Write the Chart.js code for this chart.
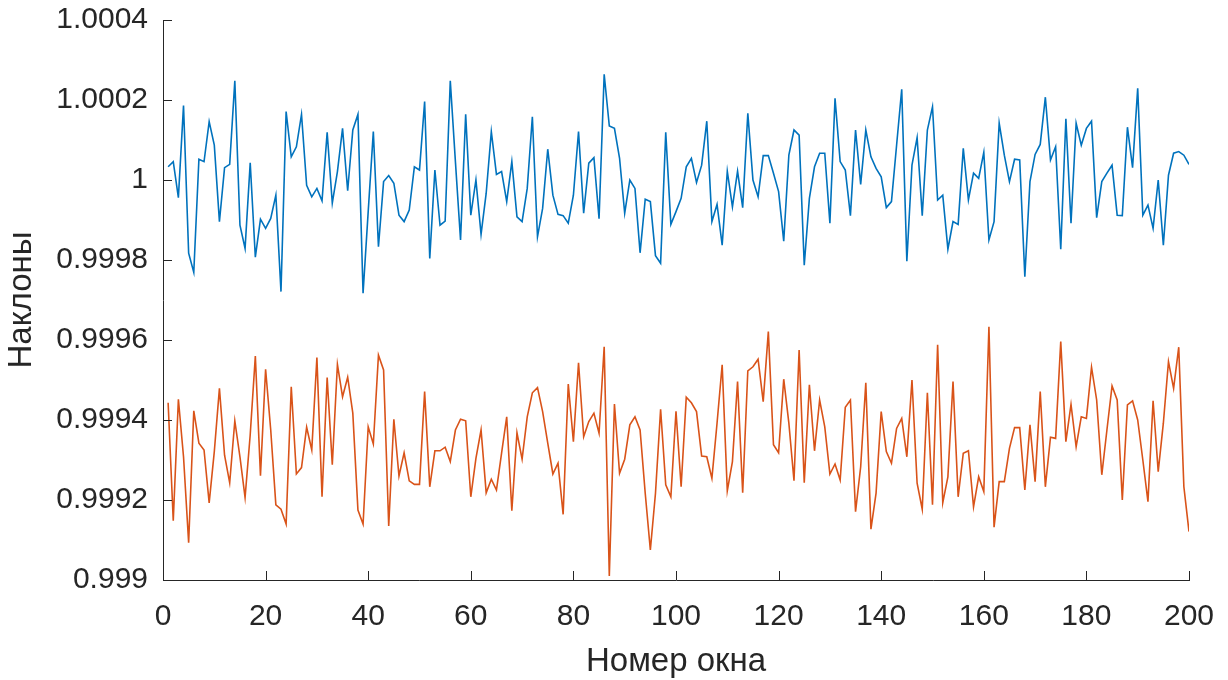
<!DOCTYPE html>
<html>
<head>
<meta charset="utf-8">
<script src="https://cdn.jsdelivr.net/npm/chart.js@4/dist/chart.umd.min.js"></script>
<style>
  html, body { margin: 0; padding: 0; background: #ffffff; }
  #wrap { width: 1228px; height: 680px; }
</style>
</head>
<body>
<div id="wrap"><canvas id="c" width="1228" height="680"></canvas></div>
<script>
// Window numbers along the x axis
const windows = Array.from({ length: 200 }, (_, k) => k + 1);

// Slope series, upper (blue) curve
const slopesA = [
  1.000033, 1.000046, 0.999956, 1.000186, 0.999817, 0.999769, 1.000052, 1.000046, 1.000146, 1.000087,
  0.999896, 1.000031, 1.000039, 1.000248, 0.999887, 0.999829, 1.000043, 0.999807, 0.999902, 0.999879,
  0.999904, 0.999962, 0.999721, 1.000171, 1.000058, 1.000083, 1.000164, 0.999987, 0.999958, 0.999979,
  0.999948, 1.000119, 0.999942, 1.000021, 1.000129, 0.999973, 1.000125, 1.000164, 0.999717, 0.999921,
  1.000121, 0.999833, 0.999996, 1.000011, 0.999992, 0.999912, 0.999896, 0.999925, 1.000033, 1.000025,
  1.000196, 0.999804, 1.000025, 0.999887, 0.999897, 1.000248, 1.000046, 0.999850, 1.000164, 0.999912,
  1.000000, 0.999864, 0.999967, 1.000121, 1.000014, 1.000021, 0.999946, 1.000046, 0.999908, 0.999896,
  0.999979, 1.000158, 0.999858, 0.999929, 1.000077, 0.999962, 0.999914, 0.999911, 0.999892, 0.999962,
  1.000121, 0.999917, 1.000042, 1.000056, 0.999903, 1.000264, 1.000135, 1.000129, 1.000054, 0.999917,
  1.000000, 0.999979, 0.999818, 0.999952, 0.999946, 0.999811, 0.999792, 1.000119, 0.999889, 0.999921,
  0.999954, 1.000033, 1.000054, 0.999994, 1.000037, 1.000147, 0.999896, 0.999939, 0.999837, 1.000022,
  0.999933, 1.000022, 0.999931, 1.000167, 1.000000, 0.999958, 1.000061, 1.000061, 1.000017, 0.999971,
  0.999847, 1.000062, 1.000125, 1.000112, 0.999787, 0.999954, 1.000033, 1.000067, 1.000067, 0.999892,
  1.000204, 1.000046, 1.000025, 0.999911, 1.000125, 0.999989, 1.000125, 1.000058, 1.000029, 1.000008,
  0.999931, 0.999946, 1.000087, 1.000227, 0.999797, 1.000037, 1.000106, 0.999911, 1.000125, 1.000183,
  0.999950, 0.999962, 0.999827, 0.999896, 0.999889, 1.000079, 0.999950, 1.000017, 1.000004, 1.000069,
  0.999850, 0.999896, 1.000142, 1.000062, 0.999996, 1.000052, 1.000050, 0.999758, 0.999996, 1.000064,
  1.000089, 1.000207, 1.000050, 1.000083, 0.999827, 1.000153, 0.999892, 1.000142, 1.000087, 1.000129,
  1.000147, 0.999906, 0.999996, 1.000017, 1.000037, 0.999912, 0.999911, 1.000132, 1.000031, 1.000229,
  0.999912, 0.999937, 0.999879, 1.000000, 0.999837, 1.000012, 1.000067, 1.000071, 1.000062, 1.000039
];

// Slope series, lower (orange) curve
const slopesB = [
  0.999443, 0.999148, 0.999452, 0.999308, 0.999093, 0.999423, 0.999342, 0.999325, 0.999193, 0.999321,
  0.999479, 0.999312, 0.999243, 0.999398, 0.999308, 0.999206, 0.999363, 0.999560, 0.999261, 0.999527,
  0.999375, 0.999188, 0.999177, 0.999140, 0.999483, 0.999265, 0.999281, 0.999382, 0.999325, 0.999556,
  0.999208, 0.999506, 0.999288, 0.999539, 0.999458, 0.999507, 0.999417, 0.999175, 0.999140, 0.999383,
  0.999340, 0.999562, 0.999525, 0.999135, 0.999402, 0.999260, 0.999318, 0.999248, 0.999239, 0.999239,
  0.999471, 0.999233, 0.999323, 0.999323, 0.999332, 0.999296, 0.999375, 0.999402, 0.999398, 0.999208,
  0.999304, 0.999375, 0.999218, 0.999252, 0.999225, 0.999317, 0.999408, 0.999173, 0.999368, 0.999302,
  0.999408, 0.999468, 0.999481, 0.999421, 0.999342, 0.999265, 0.999292, 0.999164, 0.999490, 0.999346,
  0.999543, 0.999358, 0.999396, 0.999417, 0.999367, 0.999583, 0.999010, 0.999440, 0.999267, 0.999302,
  0.999388, 0.999408, 0.999375, 0.999217, 0.999075, 0.999217, 0.999427, 0.999238, 0.999208, 0.999422,
  0.999233, 0.999457, 0.999443, 0.999421, 0.999310, 0.999308, 0.999254, 0.999392, 0.999538, 0.999223,
  0.999296, 0.999496, 0.999218, 0.999523, 0.999533, 0.999552, 0.999446, 0.999621, 0.999338, 0.999318,
  0.999502, 0.999392, 0.999248, 0.999575, 0.999243, 0.999488, 0.999323, 0.999450, 0.999383, 0.999265,
  0.999290, 0.999250, 0.999432, 0.999450, 0.999171, 0.999283, 0.999493, 0.999127, 0.999217, 0.999421,
  0.999321, 0.999292, 0.999379, 0.999404, 0.999308, 0.999500, 0.999242, 0.999177, 0.999468, 0.999188,
  0.999588, 0.999193, 0.999258, 0.999496, 0.999208, 0.999317, 0.999323, 0.999183, 0.999258, 0.999221,
  0.999633, 0.999132, 0.999246, 0.999246, 0.999329, 0.999381, 0.999381, 0.999225, 0.999388, 0.999246,
  0.999471, 0.999233, 0.999357, 0.999354, 0.999596, 0.999346, 0.999439, 0.999333, 0.999408, 0.999404,
  0.999532, 0.999450, 0.999263, 0.999375, 0.999485, 0.999450, 0.999200, 0.999438, 0.999448, 0.999400,
  0.999300, 0.999196, 0.999448, 0.999271, 0.999392, 0.999546, 0.999479, 0.999582, 0.999233, 0.999121
];

// Axis ticks
const xTicks = [0, 20, 40, 60, 80, 100, 120, 140, 160, 180, 200];
const yTicks = [0.999, 0.9992, 0.9994, 0.9996, 0.9998, 1, 1.0002, 1.0004];
const yTickLabels = ['0.999', '0.9992', '0.9994', '0.9996', '0.9998', '1', '1.0002', '1.0004'];

const AXIS_COLOR = '#262626';
const FONT = "'Liberation Sans', Arial, Helvetica, sans-serif";

// Short tick marks drawn inside the plot area, like a boxed-off axis
const innerTicks = {
  id: 'innerTicks',
  afterDatasetsDraw(chart) {
    const { ctx, chartArea, scales } = chart;
    const len = 9;
    ctx.save();
    ctx.strokeStyle = AXIS_COLOR;
    ctx.lineWidth = 1;
    ctx.beginPath();
    scales.y.ticks.forEach(t => {
      const y = Math.round(scales.y.getPixelForValue(t.value)) + 0.5;
      ctx.moveTo(chartArea.left, y);
      ctx.lineTo(chartArea.left + len, y);
    });
    scales.x.ticks.forEach(t => {
      const x = Math.round(scales.x.getPixelForValue(t.value)) + 0.5;
      ctx.moveTo(x, chartArea.bottom);
      ctx.lineTo(x, chartArea.bottom - len);
    });
    ctx.stroke();
    ctx.restore();
  }
};

new Chart(document.getElementById('c'), {
  type: 'line',
  data: {
    labels: windows,
    datasets: [
      {
        data: windows.map((w, k) => ({ x: w, y: slopesA[k] })),
        borderColor: '#0072BD',
        borderWidth: 1.6,
        pointRadius: 0,
        tension: 0,
        fill: false
      },
      {
        data: windows.map((w, k) => ({ x: w, y: slopesB[k] })),
        borderColor: '#D95319',
        borderWidth: 1.6,
        pointRadius: 0,
        tension: 0,
        fill: false
      }
    ]
  },
  options: {
    responsive: false,
    animation: false,
    layout: { padding: { top: 20, right: 39, left: 0, bottom: 0 } },
    plugins: {
      legend: { display: false },
      tooltip: { enabled: false }
    },
    scales: {
      x: {
        type: 'linear',
        min: 0,
        max: 200,
        afterBuildTicks: s => { s.ticks = xTicks.map(v => ({ value: v })); },
        afterFit: s => {
          s.height = 100;
          s.paddingLeft = 0;
          s.paddingRight = 0;
        },
        grid: { display: false, drawTicks: false },
        border: { display: true, color: AXIS_COLOR, width: 1 },
        ticks: {
          color: AXIS_COLOR,
          padding: 19,
          maxRotation: 0,
          font: { family: FONT, size: 30 },
          callback: v => String(v)
        },
        title: {
          display: true,
          text: 'Номер окна',
          color: AXIS_COLOR,
          font: { family: FONT, size: 33, lineHeight: 1 },
          padding: { top: 0, bottom: 2 }
        }
      },
      y: {
        type: 'linear',
        min: 0.999,
        max: 1.0004,
        afterBuildTicks: s => { s.ticks = yTicks.map(v => ({ value: v })); },
        afterFit: s => {
          s.width = 163;
          s.paddingTop = 0;
          s.paddingBottom = 0;
        },
        grid: { display: false, drawTicks: false },
        border: { display: true, color: AXIS_COLOR, width: 1 },
        ticks: {
          color: AXIS_COLOR,
          padding: 15,
          font: { family: FONT, size: 30 },
          callback: (v, i) => yTickLabels[i]
        },
        title: {
          display: true,
          text: 'Наклоны',
          color: AXIS_COLOR,
          font: { family: FONT, size: 33, lineHeight: 1 },
          padding: { top: 5, bottom: 0 }
        }
      }
    }
  },
  plugins: [innerTicks]
});
</script>
</body>
</html>
